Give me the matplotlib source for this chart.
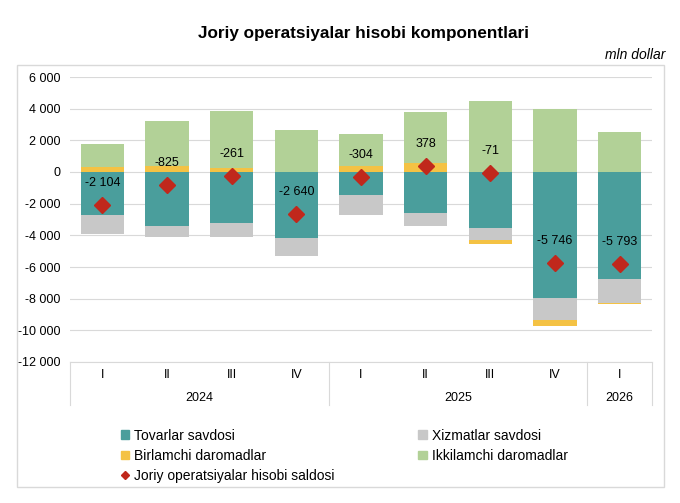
import numpy as np
import matplotlib.pyplot as plt
from matplotlib.patches import Patch, Rectangle
from matplotlib.lines import Line2D

plt.rcParams['font.family'] = ['Liberation Sans', 'DejaVu Sans']

# Data (mln dollar)
quarters = ['I', 'II', 'III', 'IV', 'I', 'II', 'III', 'IV', 'I']
years = ['2024', '2025', '2026']
year_counts = [4, 4, 1]
tovarlar = [-2740, -3420, -3250, -4150, -1430, -2600, -3520, -7950, -6770]
xizmatlar = [-1160, -655, -870, -1160, -1274, -842, -770, -1420, -1480]
birlamchi = [330, 400, 230, 20, 390, 540, -261, -376, -63]
ikkilamchi = [1466, 2850, 3629, 2650, 2010, 3280, 4480, 4000, 2520]
saldo = [-2104, -825, -261, -2640, -304, 378, -71, -5746, -5793]

c_tov = '#4a9e9c'
c_xiz = '#c8c8c8'
c_bir = '#f4c244'
c_ikk = '#b2d197'
c_sal = '#c0281c'

fig = plt.figure(figsize=(6.8, 5.03), dpi=100)
ax = fig.add_axes([70 / 680, 1 - 362 / 503, 582 / 680, 285 / 503])

# outer frame
fig.patches.append(Rectangle((17 / 680, 1 - 487 / 503), 647 / 680, 422 / 503,
                             transform=fig.transFigure, fill=False,
                             edgecolor='#d9d9d9', linewidth=1))

x = np.arange(len(quarters))
w = 0.665
tov = np.array(tovarlar)
xiz = np.array(xizmatlar)
bir = np.array(birlamchi)
ikk = np.array(ikkilamchi)

bir_pos = np.where(bir > 0, bir, 0)
bir_neg = np.where(bir < 0, bir, 0)

ax.bar(x, tov, w, color=c_tov, zorder=2)
ax.bar(x, xiz, w, bottom=tov, color=c_xiz, zorder=2)
ax.bar(x, bir_neg, w, bottom=tov + xiz, color=c_bir, zorder=2)
ax.bar(x, bir_pos, w, color=c_bir, zorder=2)
ax.bar(x, ikk, w, bottom=bir_pos, color=c_ikk, zorder=2)

ax.plot(x, saldo, linestyle='none', marker='D', markersize=7.7,
        color=c_sal, zorder=4)
for xi, v in zip(x, saldo):
    ax.annotate(f"{v:,}".replace(",", " "), (xi, v), xytext=(0, 16),
                textcoords='offset points', ha='center', va='center',
                fontsize=9, zorder=5)

ax.set_xlim(-0.5, len(quarters) - 0.5)
ax.set_ylim(-12000, 6000)
ax.set_yticks(np.arange(-12000, 6001, 2000))
ax.set_yticklabels([f"{t:,}".replace(",", " ") for t in range(-12000, 6001, 2000)])
ax.tick_params(axis='y', length=0, pad=7, labelsize=9)
ax.set_xticks([])
ax.grid(axis='y', color='#d9d9d9', linewidth=0.8, zorder=0)
for s in ['top', 'right', 'left']:
    ax.spines[s].set_visible(False)
ax.spines['bottom'].set_color('#d9d9d9')

# two-level category axis
tr = ax.get_xaxis_transform()
for xi, q in zip(x, quarters):
    ax.text(xi, -0.046, q, transform=tr, ha='center', va='center', fontsize=9)
start = 0
seps = [-0.5]
for yr, n in zip(years, year_counts):
    ax.text(start + (n - 1) / 2, -0.127, yr, transform=tr, ha='center',
            va='center', fontsize=9)
    start += n
    seps.append(start - 0.5)
for s in seps:
    ax.plot([s, s], [0, -0.151], transform=tr, color='#d9d9d9',
            linewidth=0.8, clip_on=False)

fig.text(0.535, 1 - 33 / 503, 'Joriy operatsiyalar hisobi komponentlari',
         ha='center', va='center', fontsize=12.3, fontweight='bold')
fig.text(665 / 680, 1 - 55 / 503, 'mln dollar', ha='right', va='center',
         fontsize=10, style='italic')

handles = [
    Patch(color=c_tov, label='Tovarlar savdosi'),
    Patch(color=c_bir, label='Birlamchi daromadlar'),
    Line2D([], [], linestyle='none', marker='D', markersize=4, color=c_sal,
           label='Joriy operatsiyalar hisobi saldosi'),
    Patch(color=c_xiz, label='Xizmatlar savdosi'),
    Patch(color=c_ikk, label='Ikkilamchi daromadlar'),
]
fig.legend(handles=handles, ncol=2, loc='upper left',
           bbox_to_anchor=(115 / 680, 1 - 423 / 503), frameon=False,
           fontsize=10, handlelength=0.6, handleheight=0.6, handletextpad=0.4,
           columnspacing=6.0, labelspacing=0.45, borderaxespad=0)

fig.savefig('out.png', dpi=100)
